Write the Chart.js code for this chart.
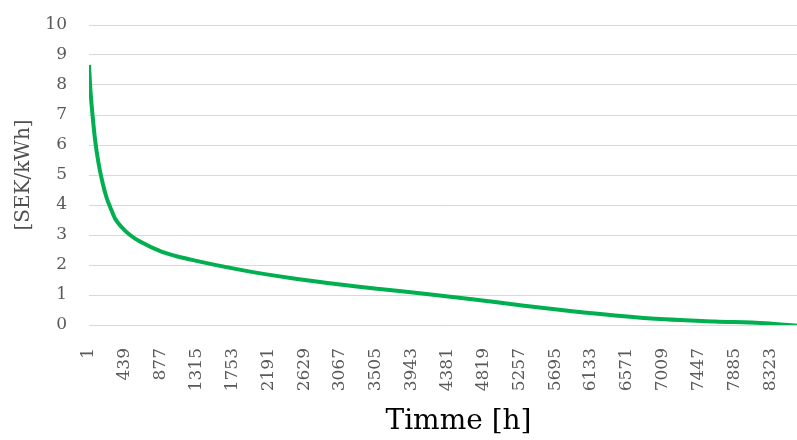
<!DOCTYPE html>
<html>
<head>
<meta charset="utf-8">
<script src="https://cdn.jsdelivr.net/npm/chart.js@4.4.1/dist/chart.umd.min.js"></script>
<style>
  html, body { margin: 0; padding: 0; background: #fff; overflow: hidden; }
  #wrap { width: 806px; height: 440px; }
</style>
</head>
<body>
<div id="wrap"><canvas id="priceChart" width="806" height="440"></canvas></div>
<script>
// Varaktighetskurva, pris per timme (sorterad)
const hours = [1, 19, 44, 74, 117, 166, 215, 264, 319, 404, 502, 624, 893, 1260, 1871, 2482, 3093, 3582, 4070, 4681, 5292, 5904, 6427, 7040, 7651, 8262, 8677];
const prices = [8.67, 7.8, 7.0, 6.2, 5.4, 4.75, 4.25, 3.9, 3.55, 3.25, 3.0, 2.78, 2.44, 2.17, 1.83, 1.56, 1.34, 1.19, 1.05, 0.86, 0.65, 0.46, 0.32, 0.19, 0.12, 0.06, -0.03];
const hourTicks = [1, 439, 877, 1315, 1753, 2191, 2629, 3067, 3505, 3943, 4381, 4819, 5257, 5695, 6133, 6571, 7009, 7447, 7885, 8323];
const yTicks = [0, 1, 2, 3, 4, 5, 6, 7, 8, 9, 10];
const xTitle = 'Timme [h]';
const yTitle = '[SEK/kWh]';

const points = hours.map((h, i) => ({ x: h, y: prices[i] }));

const tickFont = { family: 'DejaVu Serif', size: 17 };

// x-axeltitel, lite höger om mitten som i Excel-originalet
const xTitlePlugin = {
    id: 'xTitle',
    afterDraw(chart) {
        const c = chart.ctx;
        const area = chart.chartArea;
        c.save();
        c.font = '28px "DejaVu Serif"';
        c.fillStyle = '#000000';
        c.textAlign = 'center';
        c.textBaseline = 'middle';
        c.fillText(xTitle, (area.left + area.right) / 2 + 11, chart.height - 18);
        c.restore();
    }
};

const ctx = document.getElementById('priceChart').getContext('2d');
new Chart(ctx, {
    type: 'line',
    data: {
        datasets: [{
            label: 'SEK/kWh',
            data: points,
            borderColor: '#00B050',
            borderWidth: 4,
            pointRadius: 0,
            fill: false,
            tension: 0.4,
            cubicInterpolationMode: 'monotone'
        }]
    },
    options: {
        responsive: false,
        animation: false,
        layout: { padding: 0 },
        plugins: { legend: { display: false }, tooltip: { enabled: false } },
        scales: {
            x: {
                type: 'linear',
                min: 1,
                max: 8760,
                afterBuildTicks: (scale) => { scale.ticks = hourTicks.map(v => ({ value: v })); },
                afterFit: (scale) => { scale.height = 115; },
                grid: { display: false },
                border: { display: false },
                ticks: {
                    autoSkip: false,
                    minRotation: 90,
                    maxRotation: 90,
                    padding: 15,
                    color: '#595959',
                    font: tickFont,
                    callback: (v) => String(v)
                }
            },
            y: {
                min: 0,
                max: 10,
                afterBuildTicks: (scale) => { scale.ticks = yTicks.map(v => ({ value: v })); },
                afterFit: (scale) => {
                    scale.width = 89;
                    scale.paddingTop = 25;
                    scale.paddingBottom = 0;
                },
                grid: { color: '#d9d9d9', lineWidth: 1, drawTicks: false },
                border: { display: false },
                ticks: {
                    padding: 22,
                    color: '#595959',
                    font: tickFont
                },
                title: {
                    display: true,
                    text: yTitle,
                    color: '#505050',
                    font: { family: 'DejaVu Serif', size: 20 },
                    padding: { top: 12, bottom: 0 }
                }
            }
        }
    },
    plugins: [xTitlePlugin]
});
</script>
</body>
</html>
